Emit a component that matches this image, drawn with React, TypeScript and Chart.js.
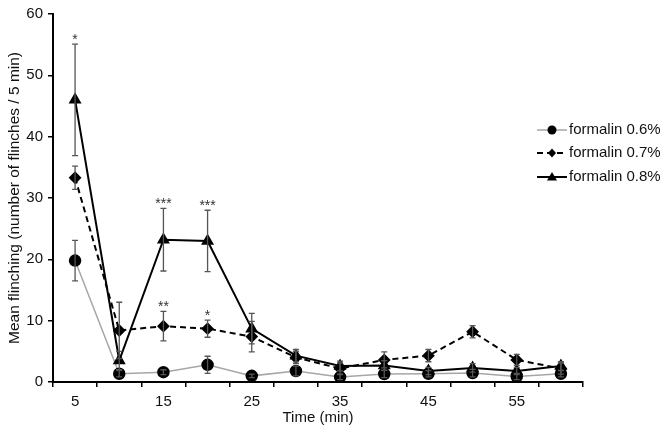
import React, { useEffect, useRef } from "react";
import { Chart, registerables } from "chart.js";

Chart.register(...registerables);

const times = ["5", "10", "15", "20", "25", "30", "35", "40", "45", "50", "55", "60"];
const seriesNames = ["formalin 0.6%", "formalin 0.7%", "formalin 0.8%"];

const f06 = [19.8, 1.35, 1.6, 2.8, 1.0, 1.8, 0.8, 1.3, 1.35, 1.45, 0.9, 1.35];
const f06Err = [3.3, 0.5, 0.4, 1.4, 0.3, 0.8, 0.4, 0.6, 0.5, 0.6, 0.5, 0.5];
const f07 = [33.3, 8.4, 9.1, 8.7, 7.4, 4.0, 2.2, 3.6, 4.3, 8.2, 3.6, 2.2];
const f07Err = [1.9, 4.6, 2.4, 1.4, 2.5, 1.0, 0.9, 1.3, 1.0, 1.0, 0.9, 0.9];
const f08 = [46.0, 3.5, 23.2, 23.0, 8.7, 4.3, 2.6, 2.7, 1.8, 2.3, 1.8, 2.6];
const f08Err = [9.1, 1.5, 5.1, 5.0, 2.5, 1.0, 0.8, 0.8, 0.6, 0.7, 0.6, 0.7];

const f06Sig = ["", "", "", "", "", "", "", "", "", "", "", ""];
const f07Sig = ["", "", "**", "*", "", "", "", "", "", "", "", ""];
const f08Sig = ["*", "", "***", "***", "", "", "", "", "", "", "", ""];

const FONT = "'Liberation Sans', Arial, sans-serif";

const errs = [f06Err, f07Err, f08Err];
const sigs = [f06Sig, f07Sig, f08Sig];

const errorBarPlugin = {
  id: "errorBars",
  afterDatasetsDraw(chart: any) {
    const ctx = chart.ctx;
    const y = chart.scales.y;
    ctx.save();
    ctx.strokeStyle = "#555";
    ctx.lineWidth = 1.3;
    chart.data.datasets.forEach((ds: any, di: number) => {
      const meta = chart.getDatasetMeta(di);
      meta.data.forEach((pt: any, i: number) => {
        const v = ds.data[i];
        const e = errs[di][i];
        const yt = y.getPixelForValue(v + e);
        const yb = y.getPixelForValue(v - e);
        const x = pt.x;
        ctx.beginPath();
        ctx.moveTo(x, yt);
        ctx.lineTo(x, yb);
        ctx.moveTo(x - 3, yt);
        ctx.lineTo(x + 3, yt);
        ctx.moveTo(x - 3, yb);
        ctx.lineTo(x + 3, yb);
        ctx.stroke();
        const s = sigs[di][i];
        if (s) {
          ctx.fillStyle = "#333";
          ctx.font = `14px ${FONT}`;
          ctx.textAlign = "center";
          ctx.textBaseline = "alphabetic";
          ctx.fillText(s, x, yt);
        }
      });
    });
    ctx.restore();
  },
};

const legendPlugin = {
  id: "customLegend",
  afterDraw(chart: any) {
    const ctx = chart.ctx;
    ctx.save();
    const x0 = 537;
    const x1 = 567;
    const ys = [130, 153, 177];
    chart.data.datasets.forEach((ds: any, di: number) => {
      const yy = ys[di];
      ctx.strokeStyle = ds.borderColor;
      ctx.lineWidth = ds.borderWidth;
      ctx.setLineDash(ds.borderDash || []);
      ctx.beginPath();
      ctx.moveTo(x0, yy);
      ctx.lineTo(x1, yy);
      ctx.stroke();
      ctx.setLineDash([]);
      const cx = (x0 + x1) / 2;
      ctx.fillStyle = "#000";
      ctx.beginPath();
      if (ds.pointStyle === "circle") {
        ctx.arc(cx, yy, 4.5, 0, Math.PI * 2);
      } else if (ds.pointStyle === "rectRot") {
        ctx.moveTo(cx, yy - 4.5);
        ctx.lineTo(cx + 4, yy);
        ctx.lineTo(cx, yy + 4.5);
        ctx.lineTo(cx - 4, yy);
        ctx.closePath();
      } else {
        ctx.moveTo(cx, yy - 5);
        ctx.lineTo(cx + 5, yy + 3.5);
        ctx.lineTo(cx - 5, yy + 3.5);
        ctx.closePath();
      }
      ctx.fill();
      ctx.font = `15px ${FONT}`;
      ctx.textAlign = "left";
      ctx.textBaseline = "middle";
      ctx.fillStyle = "#111";
      ctx.fillText(seriesNames[di], 569, yy);
    });
    ctx.restore();
  },
};

export default function App() {
  const ref = useRef<HTMLCanvasElement>(null);
  useEffect(() => {
    document.body.style.margin = "0";
    const canvas = ref.current!;
    const chart = new Chart(canvas, {
      type: "line",
      data: {
        labels: times,
        datasets: [
          {
            label: seriesNames[0],
            data: f06,
            borderColor: "#a6a6a6",
            borderWidth: 1.5,
            pointStyle: "circle",
            pointRadius: 5.5,
            pointBackgroundColor: "#000",
            pointBorderColor: "#000",
            order: 3,
          },
          {
            label: seriesNames[1],
            data: f07,
            borderColor: "#000",
            borderWidth: 2,
            borderDash: [6, 4],
            pointStyle: "rectRot",
            pointRadius: 5,
            pointBackgroundColor: "#000",
            pointBorderColor: "#000",
            order: 2,
          },
          {
            label: seriesNames[2],
            data: f08,
            borderColor: "#000",
            borderWidth: 2,
            pointStyle: "triangle",
            pointRadius: 5.5,
            pointBackgroundColor: "#000",
            pointBorderColor: "#000",
            order: 1,
          },
        ],
      } as any,
      options: {
        animation: false,
        responsive: false,
        maintainAspectRatio: false,
        layout: { padding: { top: 11, right: 89, left: 0, bottom: 0 } },
        plugins: {
          legend: { display: false },
          tooltip: { enabled: false },
        },
        scales: {
          x: {
            type: "category",
            offset: true,
            grid: {
              display: true,
              drawOnChartArea: false,
              offset: true,
              tickLength: 5,
              color: "#000",
              lineWidth: 1.5,
            },
            border: { display: true, color: "#000", width: 2 },
            ticks: {
              autoSkip: false,
              maxRotation: 0,
              padding: 6,
              color: "#111",
              font: { family: FONT, size: 15 },
              callback: (_v: any, i: number) => (i % 2 === 0 ? times[i] : ""),
            },
            title: {
              display: true,
              text: "Time (min)",
              color: "#111",
              font: { family: FONT, size: 15 },
              padding: { top: 0, bottom: 10 },
            },
            afterFit: (s: any) => {
              s.height = 55;
            },
          },
          y: {
            min: 0,
            max: 60,
            grid: {
              display: true,
              drawOnChartArea: false,
              tickLength: 5,
              color: "#000",
              lineWidth: 1.5,
            },
            border: { display: true, color: "#000", width: 2 },
            ticks: {
              stepSize: 10,
              padding: 5,
              color: "#111",
              font: { family: FONT, size: 15 },
            },
            title: {
              display: true,
              text: "Mean flinching (number of flinches / 5 min)",
              color: "#111",
              font: { family: FONT, size: 15.5 },
              padding: { top: 5, bottom: 4 },
            },
            afterFit: (s: any) => {
              s.width = 53;
            },
          },
        },
      },
      plugins: [errorBarPlugin, legendPlugin],
    } as any);
    return () => chart.destroy();
  }, []);
  return (
    <div style={{ width: 672, height: 437, background: "#fff" }}>
      <canvas ref={ref} width={672} height={437} style={{ display: "block" }} />
    </div>
  );
}
